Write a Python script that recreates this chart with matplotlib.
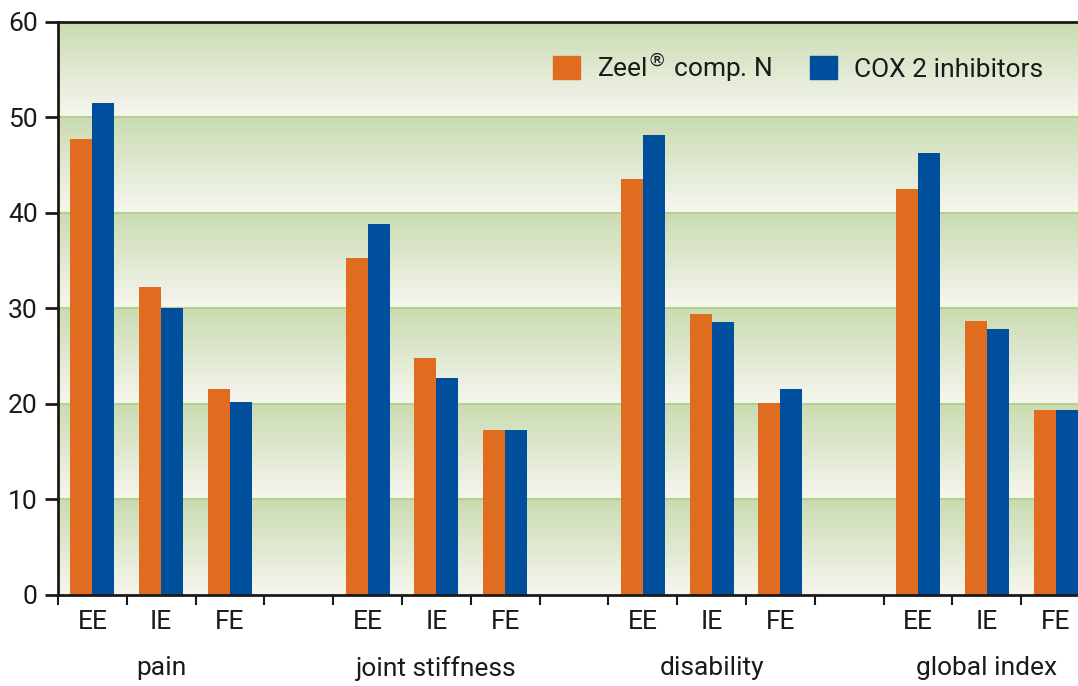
import numpy as np
import matplotlib
matplotlib.use("Agg")
import matplotlib.pyplot as plt
from matplotlib.patches import Patch

plt.rcParams['font.family'] = ['Roboto', 'DejaVu Sans']
plt.rcParams['text.color'] = "#1a1a1a"
plt.rcParams['xtick.color'] = "#1a1a1a"
plt.rcParams['ytick.color'] = "#1a1a1a"

groups = ["pain", "joint stiffness", "disability", "global index"]
phases = ["EE", "IE", "FE"]
zeel = [47.7, 32.2, 21.6,
        35.3, 24.8, 17.3,
        43.6, 29.4, 20.1,
        42.5, 28.7, 19.4]
cox2 = [51.5, 30.0, 20.2,
        38.8, 22.7, 17.3,
        48.2, 28.6, 21.6,
        46.3, 27.9, 19.4]
series_names = [r"Zeel$^{\circledR}$ comp. N", "COX 2 inhibitors"]
yticks = [0, 10, 20, 30, 40, 50, 60]

ORANGE = "#e06c20"
BLUE = "#004f9c"
GRID = "#b6cf8e"
BAND_TOP = np.array([0.79, 0.86, 0.69])
BAND_BOT = np.array([0.965, 0.965, 0.94])

fig = plt.figure(figsize=(10.78, 6.86), dpi=100)
ax = fig.add_axes([0.0538, 0.1327, 0.9462, 0.8353])

# slot positions: 3 slots per group, one empty slot between groups
xpos = np.array([g * 4 + i + 0.5 for g in range(len(groups)) for i in range(len(phases))])
w = 0.32
ax.bar(xpos - w / 2, zeel, w, color=ORANGE, zorder=3)
ax.bar(xpos + w / 2, cox2, w, color=BLUE, zorder=3)

xmax = (1078 - 58) / 68.8
ax.set_xlim(0, xmax)
ax.set_ylim(0, 60)

# banded green gradient background
yy = np.linspace(0, 60, 1200, endpoint=False)
frac = (yy % 10) / 10.0
img = BAND_BOT[None, :] + frac[:, None] * (BAND_TOP - BAND_BOT)[None, :]
ax.imshow(img[:, None, :], extent=[0, xmax, 0, 60], origin="lower", aspect="auto", zorder=0)
for y in yticks[1:-1]:
    ax.axhline(y, color=GRID, lw=1.5, zorder=2)

ax.spines["right"].set_visible(False)
for s in ["left", "bottom", "top"]:
    ax.spines[s].set_linewidth(2)
    ax.spines[s].set_color("#1a1a1a")
    ax.spines[s].set_zorder(4)

ax.set_yticks(yticks)
ax.set_yticklabels([str(v) for v in yticks], fontsize=19)
ax.tick_params(axis="y", length=9.5, width=2, pad=5)

ax.set_xticks(np.arange(0, 15))
ax.set_xticklabels([])
ax.tick_params(axis="x", which="major", length=7, width=1.5)
ax.set_xticks(xpos, minor=True)
ax.set_xticklabels(phases * len(groups), minor=True, fontsize=19)
ax.tick_params(axis="x", which="minor", length=0, pad=11)

for g, name in enumerate(groups):
    ax.text(g * 4 + 1.5, -0.128, name, transform=ax.get_xaxis_transform(),
            ha="center", va="center", fontsize=19)

handles = [Patch(color=ORANGE), Patch(color=BLUE)]
ax.legend(handles, series_names, ncol=2, loc="center right", bbox_to_anchor=(0.976, 0.921),
          frameon=False, fontsize=19, handlelength=1.0, handleheight=1.0,
          handletextpad=0.65, columnspacing=1.45, borderaxespad=0)

fig.savefig("out.png", dpi=100)
